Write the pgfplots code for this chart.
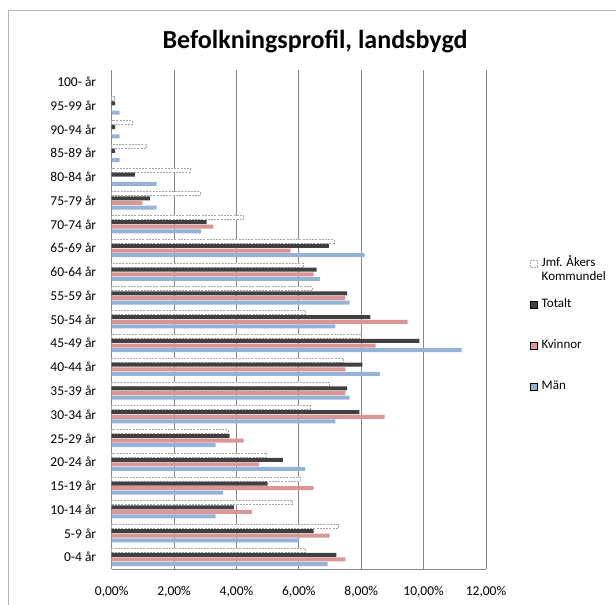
\documentclass[border=0pt]{standalone}
\usepackage{pgfplots}
\pgfplotsset{compat=1.18}
\usepackage{fontspec}
\setmainfont{Carlito}
\definecolor{totcol}{HTML}{404040}
\definecolor{kvcol}{HTML}{D99694}
\definecolor{mancol}{HTML}{95B3D7}
\definecolor{gridcol}{HTML}{868686}
\definecolor{jmfcol}{HTML}{A6A6A6}
\pgfplotsset{
  leg/.style={legend image code/.code={\draw[##1] (0bp,-3.5bp) rectangle (7bp,3.5bp);}},
}
\begin{document}
\begin{tikzpicture}[x=1bp,y=1bp]
\path[use as bounding box] (0,0) rectangle (616,605);
\draw[gridcol!60, line width=0.8bp] (8,0) -- (8,595) -- (616,595);
\node[font=\fontsize{26bp}{30bp}\selectfont\bfseries] at (315,563) {Befolkningsprofil, landsbygd};
\begin{axis}[
  at={(111.7bp,36bp)}, anchor=south west,
  scale only axis, width=374.3bp, height=499bp,
  xmin=0, xmax=12, ymin=-0.5, ymax=20.5,
  axis lines*=left,
  axis line style={gridcol, line width=0.8bp},
  xmajorgrids, grid style={gridcol, line width=0.8bp},
  xtick={0,2,4,6,8,10,12},
  xticklabels={{0,00\%},{2,00\%},{4,00\%},{6,00\%},{8,00\%},{10,00\%},{12,00\%}},
  ytick={0,...,20},
  yticklabels={0-4 år,5-9 år,10-14 år,15-19 år,20-24 år,25-29 år,30-34 år,35-39 år,40-44 år,45-49 år,50-54 år,55-59 år,60-64 år,65-69 år,70-74 år,75-79 år,80-84 år,85-89 år,90-94 år,95-99 år,100- år},
  major tick length=0pt,
  tick label style={font=\fontsize{13.5bp}{16bp}\selectfont},
  yticklabel style={xshift=-12bp},
  xticklabel style={yshift=-14bp},
  legend style={at={(1.1176,0.624)}, anchor=north west, draw=none, fill=none,
    inner sep=0pt, outer sep=0pt, row sep=29bp, column sep=4bp,
    font=\fontsize{13bp}{14bp}\selectfont,
    nodes={inner sep=0pt, text height=9bp, text depth=3bp}},
  legend cell align=left,
]
% Jmf. Åkers Kommundel
\addplot[xbar, bar width=4bp, bar shift=6.9bp, fill=white, draw=jmfcol,
  line width=0.7bp, dash pattern=on 2bp off 1.2bp, leg] coordinates {
  (6.22,0) (7.26,1) (5.80,2) (6.05,3) (4.97,4) (3.74,5) (6.37,6) (6.98,7)
  (7.44,8) (7.99,9) (6.22,10) (6.43,11) (6.14,12) (7.13,13) (4.23,14)
  (2.83,15) (2.51,16) (1.11,17) (0.66,18) (0.09,19)
};
\addlegendentry{\begin{tabular}[t]{@{}l@{}}Jmf. Åkers\\Kommundel\end{tabular}}
% Totalt
\addplot[xbar, bar width=4bp, bar shift=2.3bp, fill=totcol, draw=none, leg] coordinates {
  (7.20,0) (6.47,1) (3.92,2) (5.00,3) (5.49,4) (3.78,5) (7.94,6) (7.55,7)
  (8.04,8) (9.86,9) (8.29,10) (7.55,11) (6.57,12) (6.96,13) (3.04,14)
  (1.23,15) (0.74,16) (0.11,17) (0.11,18) (0.11,19)
};
\addlegendentry{Totalt}
% Kvinnor
\addplot[xbar, bar width=4bp, bar shift=-2.3bp, fill=kvcol, draw=none, leg] coordinates {
  (7.49,0) (6.99,1) (4.49,2) (6.47,3) (4.72,4) (4.23,5) (8.75,6) (7.49,7)
  (7.49,8) (8.46,9) (9.49,10) (7.48,11) (6.47,12) (5.74,13) (3.26,14)
  (0.98,15)
};
\addlegendentry{Kvinnor}
% Män
\addplot[xbar, bar width=4bp, bar shift=-6.9bp, fill=mancol, draw=none, leg] coordinates {
  (6.92,0) (5.99,1) (3.33,2) (3.57,3) (6.20,4) (3.33,5) (7.17,6) (7.63,7)
  (8.60,8) (11.22,9) (7.17,10) (7.63,11) (6.68,12) (8.11,13) (2.87,14)
  (1.44,15) (1.44,16) (0.25,17) (0.25,18) (0.25,19)
};
\addlegendentry{Män}
\end{axis}
\end{tikzpicture}
\end{document}
